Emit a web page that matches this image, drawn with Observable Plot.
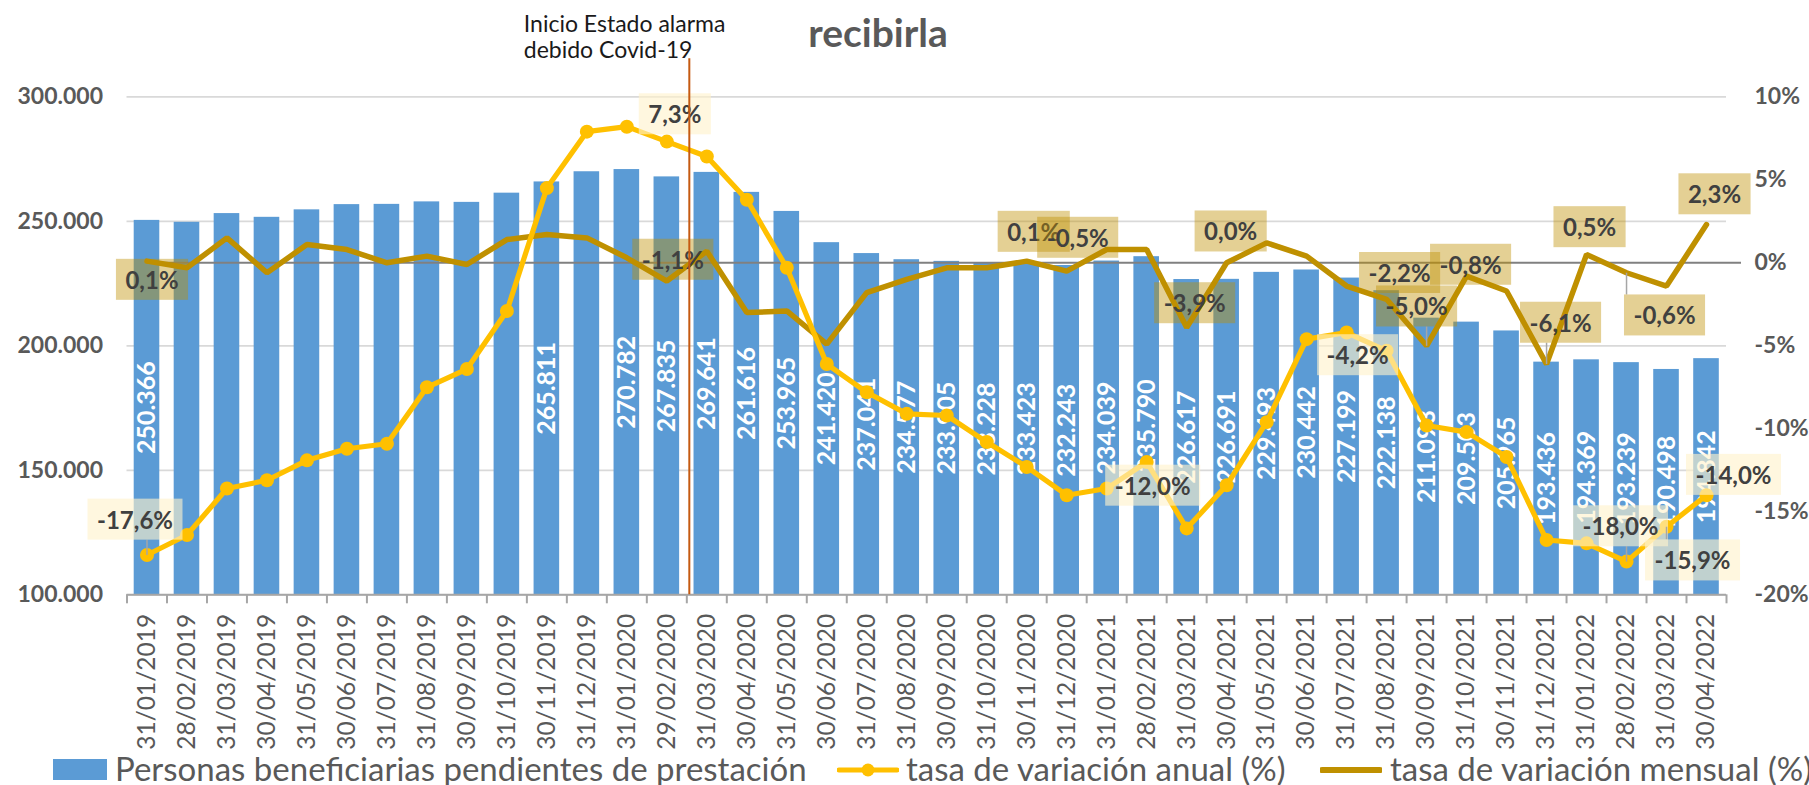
<!DOCTYPE html>
<html>
<head>
<meta charset="utf-8">
<script src="https://cdn.jsdelivr.net/npm/d3@7"></script>
<script src="https://cdn.jsdelivr.net/npm/@observablehq/plot@0.6"></script>
<style>
  html, body { margin: 0; padding: 0; background: #ffffff; }
  body { width: 1809px; height: 785px; overflow: hidden; font-family: Lato, "Open Sans", sans-serif; }
  #chart svg { display: block; }
  #legend { position: relative; width: 1809px; height: 40px; color: #595959; font-size: 33px; }
  #legend .lt { position: absolute; top: 3px; line-height: 40px; white-space: nowrap; }
  #legend .sw { position: absolute; }
</style>
</head>
<body>
<div id="chart"></div>
<div id="legend"></div>
<script>
// ---------------- data ----------------
const dates = [
  "31/01/2019","28/02/2019","31/03/2019","30/04/2019","31/05/2019","30/06/2019",
  "31/07/2019","31/08/2019","30/09/2019","31/10/2019","30/11/2019","31/12/2019",
  "31/01/2020","29/02/2020","31/03/2020","30/04/2020","31/05/2020","30/06/2020",
  "31/07/2020","31/08/2020","30/09/2020","31/10/2020","30/11/2020","31/12/2020",
  "31/01/2021","28/02/2021","31/03/2021","30/04/2021","31/05/2021","30/06/2021",
  "31/07/2021","31/08/2021","30/09/2021","31/10/2021","30/11/2021","31/12/2021",
  "31/01/2022","28/02/2022","31/03/2022","30/04/2022"
];
// Personas beneficiarias pendientes de prestación
const pending = [
  250366, 249600, 253100, 251600, 254600, 256700, 256800, 257800, 257600, 261300, 265811, 269900,
  270782, 267835, 269641, 261616, 253965, 241420, 237041, 234577, 233905, 233228, 233423, 232243,
  234039, 235790, 226617, 226691, 229493, 230442, 227199, 222138, 211093, 209503, 205965, 193436,
  194369, 193239, 190498, 194842
];
// tasa de variación anual (%)
const annualRate = [
  -17.6, -16.4, -13.6, -13.1, -11.9, -11.2, -10.9, -7.5, -6.4, -2.9, 4.5, 7.9,
  8.2, 7.3, 6.4, 3.8, -0.3, -6.1, -7.8, -9.1, -9.2, -10.8, -12.3, -14.0,
  -13.6, -12.0, -16.0, -13.4, -9.6, -4.6, -4.2, -5.3, -9.8, -10.2, -11.7, -16.7,
  -16.9, -18.0, -15.9, -14.0
];
// tasa de variación mensual (%)
const monthlyRate = [
  0.1, -0.3, 1.5, -0.6, 1.1, 0.8, 0.0, 0.4, -0.1, 1.4, 1.7, 1.5,
  0.3, -1.1, 0.7, -3.0, -2.9, -4.9, -1.8, -1.0, -0.3, -0.3, 0.1, -0.5,
  0.8, 0.8, -3.9, 0.0, 1.2, 0.4, -1.4, -2.2, -5.0, -0.8, -1.7, -6.1,
  0.5, -0.6, -1.4, 2.3
];
// bars that carry a value label
const labeledBars = ["31/01/2019", "30/11/2019"].concat(dates.slice(12));
// points that carry a value label
const annualLabelDates = ["31/01/2019","29/02/2020","28/02/2021","31/07/2021","28/02/2022","31/03/2022","30/04/2022"];
const monthlyLabelDates = ["31/01/2019","29/02/2020","30/11/2020","31/12/2020","31/03/2021","30/04/2021",
  "31/08/2021","30/09/2021","31/10/2021","31/12/2021","31/01/2022","28/02/2022","30/04/2022"];
const leftTicks = [100000, 150000, 200000, 250000, 300000];
const rightTicks = [-20, -15, -10, -5, 0, 5, 10];
const titleText = "recibirla";
const covidDate = "31/03/2020";
const covidText = "Inicio Estado alarma\ndebido Covid-19";
const legendLabels = ["Personas beneficiarias pendientes de prestación", "tasa de variación anual (%)", "tasa de variación mensual (%)"];

// ---------------- styles ----------------
const C = {
  bar: "#5B9BD5", annual: "#FFC000", monthly: "#BF9000", covid: "#C55A11",
  text: "#595959", grid: "#D9D9D9", zero: "#808080", axis: "#A6A6A6", labelText: "#404040"
};
// label placement (style): offset of the label box centre from its point, and leader line flag
const annualPlacement = {
  "31/01/2019": [-12, -34, true], "29/02/2020": [8, -26, false], "28/02/2021": [6, 25, false],
  "31/07/2021": [11, 24, false], "28/02/2022": [-6, -34, true], "31/03/2022": [26, 35, true],
  "30/04/2022": [27, -19, false]
};
const monthlyPlacement = {
  "31/01/2019": [5, 20, false], "29/02/2020": [6, -20, false], "30/11/2020": [7, -28, false],
  "31/12/2020": [11, -32, false], "31/03/2021": [8, -23, false], "30/04/2021": [4, -30, false],
  "31/08/2021": [13, -25, false], "30/09/2021": [-10, -38, true], "31/10/2021": [4, -10, false],
  "31/12/2021": [14, -40, true], "31/01/2022": [3, -26, false], "28/02/2022": [38, 44, true],
  "30/04/2022": [8, -29, false]
};

// ---------------- helpers ----------------
const locale = d3.formatLocale({decimal: ",", thousands: ".", grouping: [3], currency: ["", "€"]});
const fmtThousands = locale.format(",d");
const fmtPct1 = v => (v < 0 ? "-" : "") + Math.abs(v).toFixed(1).replace(".", ",") + "%";
const Y0 = leftTicks[0], Y1 = leftTicks[leftTicks.length - 1];
const P0 = rightTicks[0], P1 = rightTicks[rightTicks.length - 1];
const pctToY = p => Y0 + (p - P0) / (P1 - P0) * (Y1 - Y0);
const yToPct = y => P0 + (y - Y0) / (Y1 - Y0) * (P1 - P0);

const rows = dates.map((d, i) => ({date: d, pending: pending[i], annual: annualRate[i], monthly: monthlyRate[i]}));
const byDate = new Map(rows.map(r => [r.date, r]));

const annSpecs = [];
monthlyLabelDates.forEach(d => {
  const [dx, dy, leader] = monthlyPlacement[d];
  annSpecs.push({row: byDate.get(d), key: "monthly", dx, dy, leader, fill: C.monthly, opacity: 0.42});
});
annualLabelDates.forEach(d => {
  const [dx, dy, leader] = annualPlacement[d];
  annSpecs.push({row: byDate.get(d), key: "annual", dx, dy, leader, fill: "#FFF2CC", opacity: 0.62});
});

const W = 1809, H = 745;
const mL = 126.5, mR = 83, mT = 96.3, mB = H - 594.3;

const marks = [
  Plot.gridY(leftTicks, {stroke: C.grid, strokeOpacity: 1, strokeWidth: 1.8}),
  Plot.barY(rows, {x: "date", y1: Y0, y2: "pending", fill: C.bar}),
  Plot.text(rows.filter(r => labeledBars.includes(r.date)), {
    x: "date", y: r => (r.pending + Y0) / 2, text: r => fmtThousands(r.pending),
    rotate: -90, fill: "#FFFFFF", fontSize: 25, fontWeight: "bold"
  }),
  Plot.ruleY([pctToY(0)], {stroke: C.zero, strokeWidth: 2, insetLeft: 20, insetRight: -15}),
  Plot.ruleY([Y0], {stroke: C.axis, strokeWidth: 2}),
  Plot.axisX({tickSize: 9, tickFormat: () => "", dx: -20, stroke: C.axis, strokeWidth: 2, label: null}),
  Plot.axisX([dates[dates.length - 1]], {tickSize: 9, tickFormat: () => "", dx: 20, stroke: C.axis, strokeWidth: 2, label: null}),
  Plot.axisX({tickRotate: -90, tickSize: 0, tickPadding: 19, fontSize: 24.5, fill: C.text, label: null}),
  Plot.axisY(leftTicks, {anchor: "left", tickSize: 0, tickPadding: 24, tickFormat: fmtThousands,
    fontSize: 23, fontWeight: "bold", fill: C.text, label: null}),
  Plot.axisY(rightTicks.map(pctToY), {anchor: "right", tickSize: 0, tickPadding: 28,
    tickFormat: d => { const p = Math.round(yToPct(d)); return (p < 0 ? "-" : "") + Math.abs(p) + "%"; },
    fontSize: 23, fontWeight: "bold", fill: C.text, label: null}),
  Plot.line(rows, {x: "date", y: r => pctToY(r.monthly), stroke: C.monthly, strokeWidth: 5.5, strokeLinejoin: "miter"}),
  Plot.line(rows, {x: "date", y: r => pctToY(r.annual), stroke: C.annual, strokeWidth: 5.2, strokeLinejoin: "round"}),
  Plot.dot(rows, {x: "date", y: r => pctToY(r.annual), r: 7, fill: C.annual, stroke: null}),
  ...annSpecs.map((s, k) => Plot.text([s.row], {
    x: "date", y: r => pctToY(r[s.key]), text: r => fmtPct1(r[s.key]),
    dx: s.dx, dy: s.dy, fontSize: 24, fontWeight: "bold", fill: C.labelText, ariaDescription: "ann-" + k
  })),
  Plot.ruleX([covidDate], {x: d => d, y1: Y1, y2: Y0, insetTop: -38, stroke: C.covid, strokeWidth: 2, dx: -17.5}),
  Plot.text([covidDate], {x: d => d, text: () => covidText, frameAnchor: "top", textAnchor: "start",
    lineAnchor: "bottom", dx: -183, dy: -39, fontSize: 23, lineHeight: 1.11, fill: "#1A1A1A"}),
  Plot.text([titleText], {text: d => d, frameAnchor: "top-left", dx: 751, dy: -49.6, textAnchor: "middle",
    lineAnchor: "bottom", fontSize: 39, fontWeight: "bold", fill: C.text})
];

const svg = Plot.plot({
  width: W, height: H,
  marginLeft: mL, marginRight: mR, marginTop: mT, marginBottom: mB,
  x: {type: "band", domain: dates, paddingInner: 0.36, paddingOuter: 0.18},
  y: {domain: [Y0, Y1]},
  style: {fontFamily: "Lato, 'Open Sans', sans-serif", background: "#ffffff", overflow: "visible"},
  marks
});
document.getElementById("chart").append(svg);

// label boxes and leader lines (drawn around the library-placed label texts)
const NS = "http://www.w3.org/2000/svg";
const annGroups = Array.from(svg.querySelectorAll("g[aria-description]"));
annSpecs.forEach((s, k) => {
  const g = annGroups.find(el => el.getAttribute("aria-description") === "ann-" + k);
  if (!g) return;
  const t = g.querySelector("text");
  if (!t) return;
  let tx, ty, local;
  if (t.hasAttribute("x") && t.hasAttribute("y")) {
    tx = +t.getAttribute("x"); ty = +t.getAttribute("y"); local = false;
  } else {
    const m = /translate\(\s*([-\d.e]+)[ ,]+([-\d.e]+)\s*\)/.exec(t.getAttribute("transform") || "");
    tx = m ? +m[1] : 0; ty = m ? +m[2] : 0; local = true;
  }
  const bb = t.getBBox();
  const ox = local ? tx : 0, oy = local ? ty : 0;
  const padX = 9.5, padY = 6;
  const rx = ox + bb.x - padX, ry = oy + bb.y - padY, rw = bb.width + 2 * padX, rh = bb.height + 2 * padY;
  const rect = document.createElementNS(NS, "rect");
  rect.setAttribute("x", rx); rect.setAttribute("y", ry);
  rect.setAttribute("width", rw); rect.setAttribute("height", rh);
  rect.setAttribute("fill", s.fill); rect.setAttribute("fill-opacity", s.opacity);
  rect.setAttribute("stroke", "none");
  t.parentNode.insertBefore(rect, t);
  if (s.leader) {
    const px = tx - s.dx, py = ty - s.dy;
    const qx = Math.max(rx, Math.min(rx + rw, px)), qy = Math.max(ry, Math.min(ry + rh, py));
    const ln = document.createElementNS(NS, "line");
    ln.setAttribute("x1", qx); ln.setAttribute("y1", qy);
    ln.setAttribute("x2", px); ln.setAttribute("y2", py);
    ln.setAttribute("stroke", "#A6A6A6"); ln.setAttribute("stroke-width", 1.5);
    t.parentNode.insertBefore(ln, rect);
  }
});

// legend
const legend = document.getElementById("legend");
const legendItems = [
  {swatch: "bar", x: 53, tx: 115, color: C.bar},
  {swatch: "dotline", x: 837, tx: 906, color: C.annual},
  {swatch: "line", x: 1320, tx: 1390, color: C.monthly}
];
legendItems.forEach((it, i) => {
  if (it.swatch === "bar") {
    const sw = document.createElement("span");
    sw.className = "sw";
    sw.style.cssText = `left:${it.x}px;top:14px;width:54px;height:21px;background:${it.color}`;
    legend.append(sw);
  } else {
    const s = document.createElementNS(NS, "svg");
    s.setAttribute("width", 62); s.setAttribute("height", 40);
    s.style.cssText = `position:absolute;left:${it.x}px;top:5px`;
    const l = document.createElementNS(NS, "line");
    l.setAttribute("x1", 2); l.setAttribute("x2", 60); l.setAttribute("y1", 20); l.setAttribute("y2", 20);
    l.setAttribute("stroke", it.color); l.setAttribute("stroke-width", it.swatch === "line" ? 6 : 5);
    l.setAttribute("stroke-linecap", "round");
    s.append(l);
    if (it.swatch === "dotline") {
      const c = document.createElementNS(NS, "circle");
      c.setAttribute("cx", 31); c.setAttribute("cy", 20); c.setAttribute("r", 6.5); c.setAttribute("fill", it.color);
      s.append(c);
    }
    legend.append(s);
  }
  const t = document.createElement("span");
  t.className = "lt";
  t.style.left = it.tx + "px";
  t.textContent = legendLabels[i];
  legend.append(t);
});
</script>
</body>
</html>
